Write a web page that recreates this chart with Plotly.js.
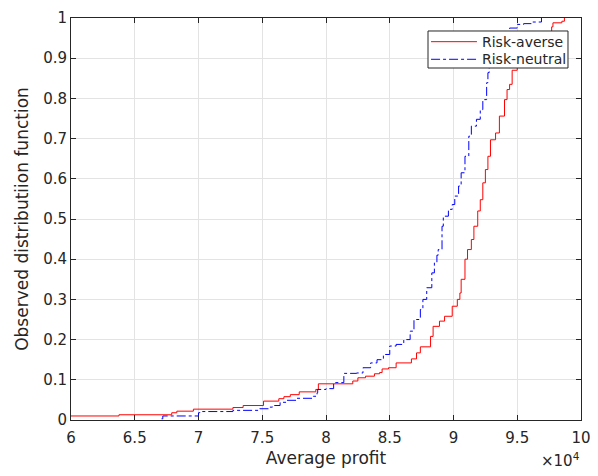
<!DOCTYPE html>
<html>
<head>
<meta charset="utf-8">
<script src="https://cdn.plot.ly/plotly-3.0.1.min.js"></script>
<style>
  html, body { margin: 0; padding: 0; background: #fff; }
  #chart { width: 598px; height: 476px; }
</style>
</head>
<body>
<div id="chart"></div>
<script>
// Empirical distribution of average profit, one step per breakpoint
const averseProfit = [60000, 63760, 67900, 68300, 69600, 72700, 73500, 75100, 76300, 76700,
  77200, 77900, 79200, 79400, 82100, 82500, 83100, 83800, 84200, 84400,
  84900, 85500, 86700, 87100, 87400, 88200, 88400, 88900, 89300, 89900,
  90300, 90500, 90600, 90900, 91100, 91400, 91600, 91900, 92100, 92300,
  92500, 92700, 92900, 93300, 93600, 94000, 94200, 94400, 94600, 95000,
  95600, 96200, 97000, 97700, 97800, 98500, 98700];
const averseCdf = [0.010, 0.013, 0.018, 0.022, 0.027, 0.031, 0.036, 0.047, 0.053, 0.058,
  0.063, 0.070, 0.076, 0.090, 0.097, 0.105, 0.109, 0.115, 0.118, 0.127,
  0.130, 0.142, 0.152, 0.167, 0.182, 0.208, 0.233, 0.246, 0.258, 0.283,
  0.300, 0.316, 0.350, 0.400, 0.424, 0.449, 0.482, 0.520, 0.548, 0.590,
  0.623, 0.656, 0.697, 0.714, 0.756, 0.797, 0.822, 0.835, 0.870, 0.895,
  0.920, 0.940, 0.960, 0.978, 0.988, 0.992, 1.000];

const neutralProfit = [67100, 67200, 70000, 70100, 72700, 74800, 75600, 75800, 76400, 76900,
  77700, 79000, 79300, 79350, 80000, 80600, 81400, 82400, 82900, 83500,
  84000, 84500, 85000, 85500, 86100, 86600, 86900, 87400, 87600, 87900,
  88300, 88500, 88700, 88800, 89100, 89200, 89600, 89900, 90100, 90400,
  90600, 90900, 91200, 91400, 91800, 92100, 92300, 92600, 92700, 92800,
  93100, 93600, 94400, 95000, 95500, 96200, 96900];
const neutralCdf = [0.003, 0.010, 0.018, 0.021, 0.024, 0.028, 0.032, 0.036, 0.044, 0.049,
  0.054, 0.059, 0.068, 0.076, 0.078, 0.093, 0.116, 0.117, 0.130, 0.142,
  0.150, 0.163, 0.184, 0.188, 0.200, 0.221, 0.250, 0.275, 0.300, 0.329,
  0.366, 0.391, 0.410, 0.424, 0.482, 0.507, 0.524, 0.536, 0.557, 0.582,
  0.615, 0.656, 0.706, 0.731, 0.748, 0.772, 0.797, 0.839, 0.864, 0.880,
  0.920, 0.955, 0.975, 0.984, 0.986, 0.990, 1.000];

const seriesNames = ['Risk-averse', 'Risk-neutral'];
const xTickVals = [60000, 65000, 70000, 75000, 80000, 85000, 90000, 95000, 100000];
const xTickText = ['6', '6.5', '7', '7.5', '8', '8.5', '9', '9.5', '10'];
const yTickVals = [0, 0.1, 0.2, 0.3, 0.4, 0.5, 0.6, 0.7, 0.8, 0.9, 1];
const yTickText = ['0', '0.1', '0.2', '0.3', '0.4', '0.5', '0.6', '0.7', '0.8', '0.9', '1'];

const ink = '#262626';
const font = 'DejaVu Sans, Liberation Sans, sans-serif';
const averseLine = { color: '#ff0000', width: 1 };
const neutralLine = { color: '#0000ff', width: 1, dash: 'dashdot' };

const traces = [
  {
    x: averseProfit, y: averseCdf, name: seriesNames[0],
    type: 'scatter', mode: 'lines',
    line: Object.assign({ shape: 'hv' }, averseLine)
  },
  {
    x: neutralProfit, y: neutralCdf, name: seriesNames[1],
    type: 'scatter', mode: 'lines',
    line: Object.assign({ shape: 'hv' }, neutralLine)
  }
];

const axisCommon = {
  showline: true, linecolor: ink, linewidth: 1, mirror: 'ticks',
  ticks: 'inside', ticklen: 5, tickcolor: ink, tickwidth: 1,
  showgrid: true, gridcolor: '#e3e3e3', gridwidth: 1,
  zeroline: false,
  tickfont: { family: font, size: 15, color: ink }
};

// Boxed legend in the upper right corner (paper coordinates)
const lg = { x0: 0.700, x1: 0.9745, y0: 0.8756, y1: 0.9677 };
const rowY = [0.9411, 0.8973];
const sampleX = [0.706, 0.796];
const textX = 0.802;

const shapes = [
  { type: 'rect', xref: 'paper', yref: 'paper', x0: lg.x0, x1: lg.x1, y0: lg.y0, y1: lg.y1,
    fillcolor: '#ffffff', line: { color: ink, width: 1 }, layer: 'above' },
  { type: 'line', xref: 'paper', yref: 'paper', x0: sampleX[0], x1: sampleX[1], y0: rowY[0], y1: rowY[0],
    line: averseLine, layer: 'above' },
  { type: 'line', xref: 'paper', yref: 'paper', x0: sampleX[0], x1: sampleX[1], y0: rowY[1], y1: rowY[1],
    line: neutralLine, layer: 'above' }
];

const annotations = seriesNames.map((name, i) => ({
  xref: 'paper', yref: 'paper', x: textX, y: rowY[i],
  xanchor: 'left', yanchor: 'middle', showarrow: false,
  text: name, font: { family: font, size: 14, color: ink }
}));

annotations.push({
  xref: 'paper', yref: 'paper', x: 0.918, y: -0.13,
  xanchor: 'left', yanchor: 'bottom', showarrow: false,
  text: '×10<sup>4</sup>',
  font: { family: font, size: 15, color: ink }
});

const layout = {
  width: 598, height: 476,
  margin: { l: 71, r: 17, t: 18, b: 56 },
  paper_bgcolor: '#ffffff', plot_bgcolor: '#ffffff',
  font: { family: font, color: ink },
  showlegend: false,
  xaxis: Object.assign({}, axisCommon, {
    range: [60000, 100000],
    tickmode: 'array', tickvals: xTickVals, ticktext: xTickText,
    ticklabelstandoff: 4,
    title: { text: 'Average profit', font: { family: font, size: 17, color: ink }, standoff: 6 }
  }),
  yaxis: Object.assign({}, axisCommon, {
    range: [0, 1],
    tickmode: 'array', tickvals: yTickVals, ticktext: yTickText,
    title: { text: 'Observed distributiion function', font: { family: font, size: 17, color: ink }, standoff: 10 }
  }),
  shapes: shapes,
  annotations: annotations
};

Plotly.newPlot('chart', traces, layout, { displayModeBar: false, staticPlot: true });
</script>
</body>
</html>
